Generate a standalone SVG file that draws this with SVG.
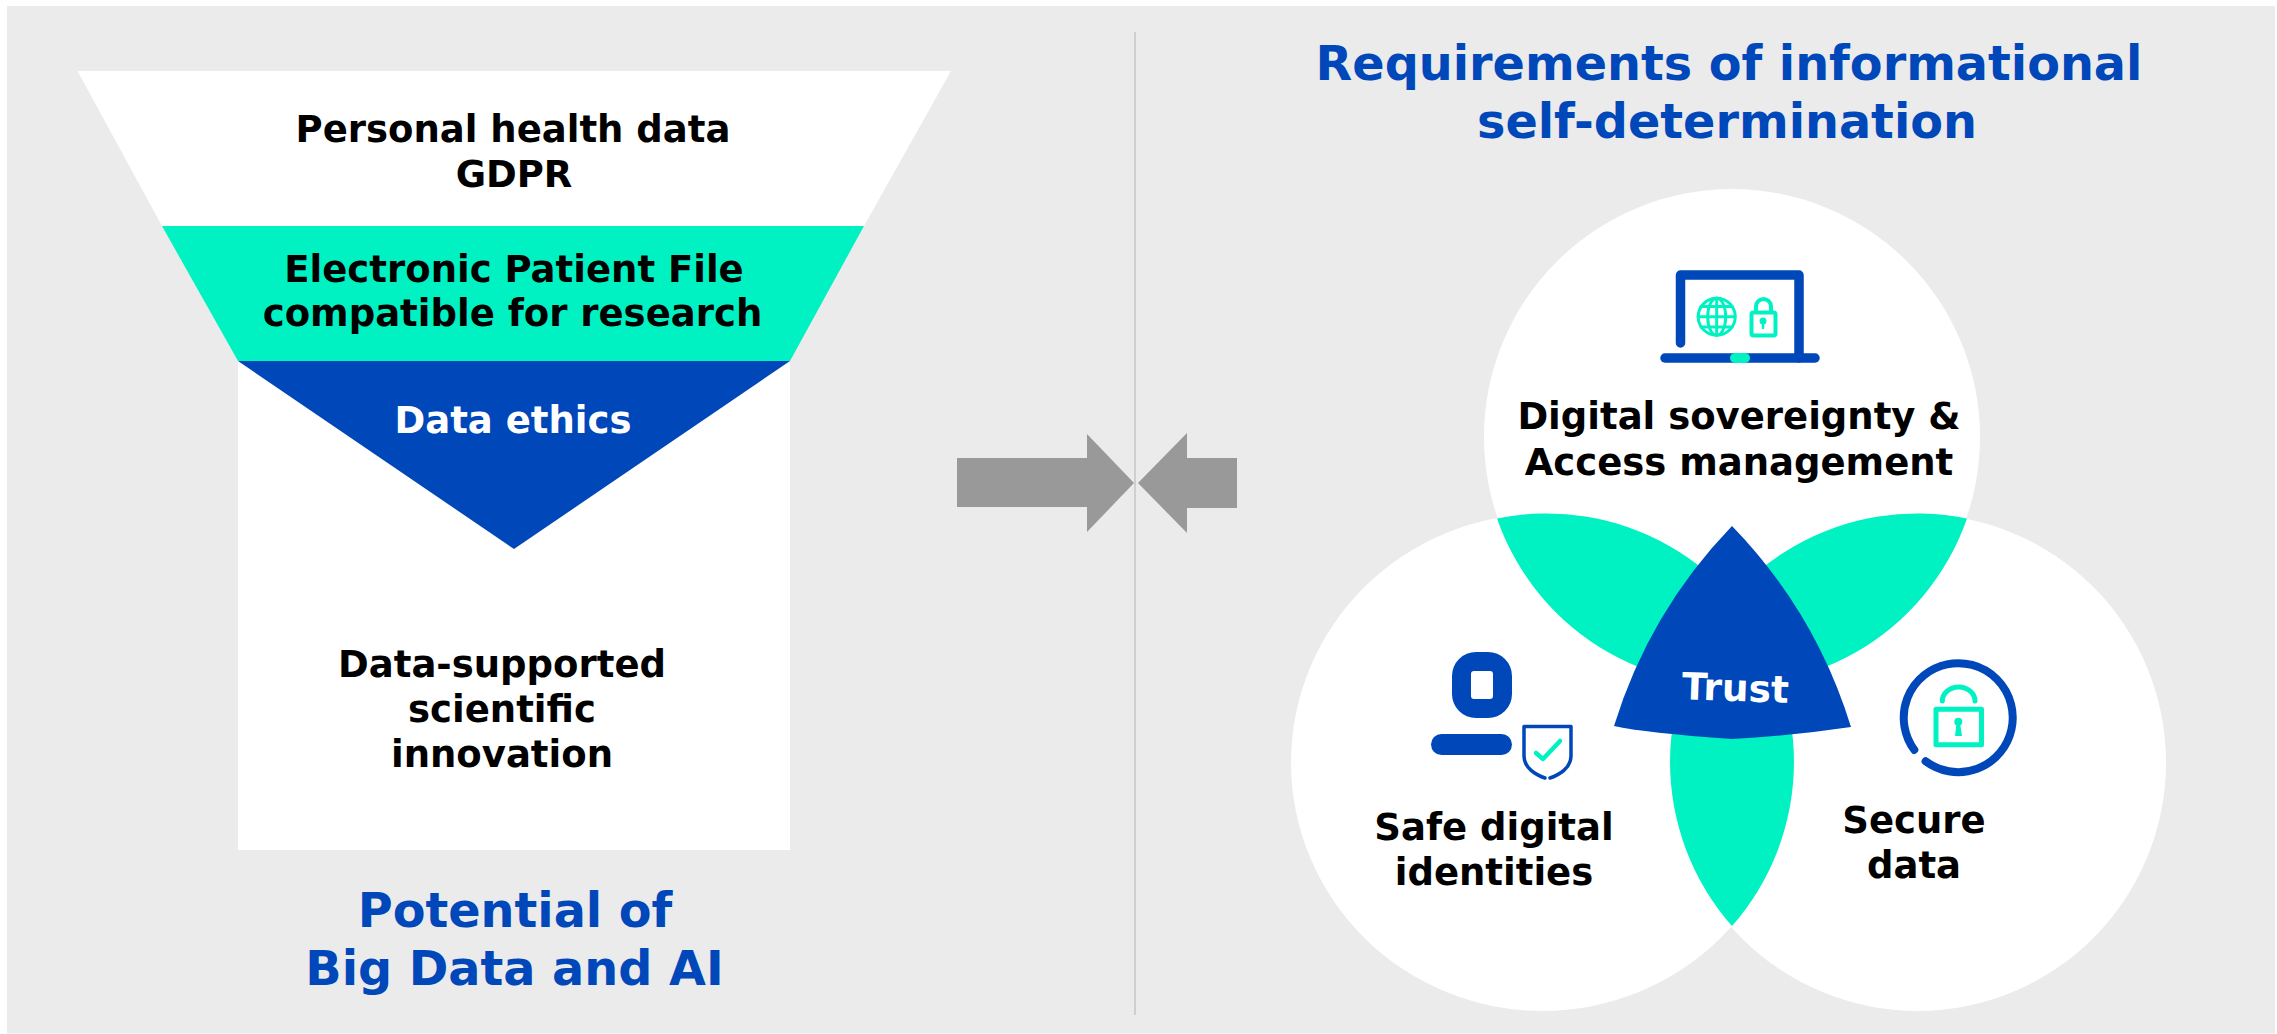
<svg xmlns="http://www.w3.org/2000/svg" width="2277" height="1034" viewBox="0 0 2277 1034">
<style>
text{font-family:"DejaVu Sans",Verdana,sans-serif;font-weight:700;text-anchor:middle}
.b{font-size:37px;fill:#000}
.h{font-size:47.700px;fill:#0047ba}
.t{fill:#00f2c3}
.n{fill:#0047ba}
.sb{fill:none;stroke:#0047ba;stroke-linecap:round;stroke-linejoin:round}
.st{fill:none;stroke:#00f2c3;stroke-linecap:round;stroke-linejoin:round}
.arrow{fill:#999}
</style>
<rect x="0" y="0" width="2277" height="1034" fill="#fff"/>
<rect x="7" y="6" width="2268" height="1027.500" fill="#ebebeb"/>
<g id="divider"><line x1="1135" y1="32" x2="1135" y2="1015" stroke="#cfcfcf" stroke-width="2"/></g>
<g id="funnel">
<path d="M77.500 71H951L864 226H162Z" fill="#fff"/>
<path class="t" d="M162 226H864L790 361H238Z"/>
<rect x="238" y="361" width="552" height="489" fill="#fff"/>
<path class="n" d="M238 361H790L514 549Z"/>
<text class="b" x="513" y="142">Personal health data</text>
<text class="b" x="514" y="187">GDPR</text>
<text class="b" x="514" y="282">Electronic Patient File</text>
<text class="b" x="512.500" y="326">compatible for research</text>
<text class="b" x="513" y="433" style="fill:#fff">Data ethics</text>
<text class="b" x="502" y="677">Data-supported</text>
<text class="b" x="502" y="722">scientific</text>
<text class="b" x="502" y="767">innovation</text>
<text class="h" x="515" y="927">Potential of</text>
<text class="h" x="514.500" y="985">Big Data and AI</text>
</g>
<g id="arrows">
<path class="arrow" d="M957 458H1087V434L1134 483L1087 532V507H957Z"/>
<path class="arrow" d="M1237 458H1187V433L1138 483L1187 533V508H1237Z"/>
</g>
<g id="title"><text class="h" x="1729" y="80">Requirements of informational</text>
<text class="h" x="1727" y="138">self-determination</text></g>
<g id="venn">
<circle cx="1732" cy="437" r="248" fill="#fff"/>
<ellipse cx="1542.500" cy="762.500" rx="251.500" ry="248.500" fill="#fff"/>
<circle cx="1917.500" cy="762.500" r="248.500" fill="#fff"/>
<path class="t" d="M1497 518.500A248 248 0 0 1 1781 680A248 248 0 0 1 1497 518.500Z"/>
<path class="t" d="M1967 518.500A248 248 0 0 0 1683 680A248 248 0 0 0 1967 518.500Z"/>
<path class="t" d="M1732 598A248 248 0 0 1 1732 926A248 248 0 0 1 1732 598Z"/>
</g>
<g id="trust">
<path class="n" d="M1732 526A500 500 0 0 0 1614 726Q1645 733 1732 739Q1790 736 1851 727A500 500 0 0 0 1732 526Z"/>
<text transform="rotate(2 1735 700)" x="1735" y="701" style="font-size:37.500px;fill:#fff">Trust</text>
</g>
<g id="sovereignty">
<path class="sb" stroke-width="9.500" d="M1680.500 343V275H1799V358"/>
<path class="sb" stroke-width="9.500" d="M1665 358H1815"/>
<rect class="t" x="1730" y="353" width="20" height="10" rx="5"/>
<g class="st" stroke-width="3">
<circle cx="1716.700" cy="316.700" r="18.500"/>
<ellipse cx="1716.700" cy="316.700" rx="9" ry="18.500"/>
<path d="M1716.700 298V335M1698 316.700H1735M1701 306.500H1732M1701 327H1732"/>
</g>
<rect class="st" stroke-width="4" x="1751.500" y="312.500" width="24" height="23" rx="2"/>
<path class="st" stroke-width="4" d="M1756 312V306.500A7.500 7.500 0 0 1 1771 306.500V312"/>
<circle class="t" cx="1763" cy="321" r="3.500"/><path class="st" stroke-width="2.500" d="M1763 322V328"/>
<text class="b" x="1739" y="429">Digital sovereignty &amp;</text>
<text class="b" x="1739" y="475">Access management</text>
</g>
<g id="identities">
<path class="n" fill-rule="evenodd" d="M1476 652H1488A24 24 0 0 1 1512 676V694A24 24 0 0 1 1488 718H1476A24 24 0 0 1 1452 694V676A24 24 0 0 1 1476 652ZM1474 671A3 3 0 0 0 1471 674V696A3 3 0 0 0 1474 699H1490A3 3 0 0 0 1493 696V674A3 3 0 0 0 1490 671Z"/>
<rect class="n" x="1431" y="734" width="81" height="21" rx="10.500"/>
<path class="sb" stroke-width="3.500" d="M1545 778C1536 775 1524 768 1524 756V726.500H1571V756C1571 768 1559 775 1550 778"/>
<path class="st" stroke-width="4.500" d="M1536 753L1543 759L1560 741"/>
<text class="b" x="1494" y="840">Safe digital</text>
<text class="b" x="1494" y="885">identities</text>
</g>
<g id="secure">
<path class="sb" stroke-width="8" d="M1925.600 761.300A54.500 54.500 0 1 0 1914.300 749.900"/>
<rect class="st" stroke-width="5" x="1936" y="709.200" width="45.500" height="35.600"/>
<path class="st" stroke-width="5" d="M1942.300 701A16.300 14 0 0 1 1975 701"/>
<circle class="t" cx="1958.300" cy="721.700" r="4"/>
<path class="t" d="M1956.500 723H1960L1962 736H1955Z"/>
<text class="b" x="1914" y="833">Secure</text>
<text class="b" x="1914" y="877.500">data</text>
</g>
</svg>
